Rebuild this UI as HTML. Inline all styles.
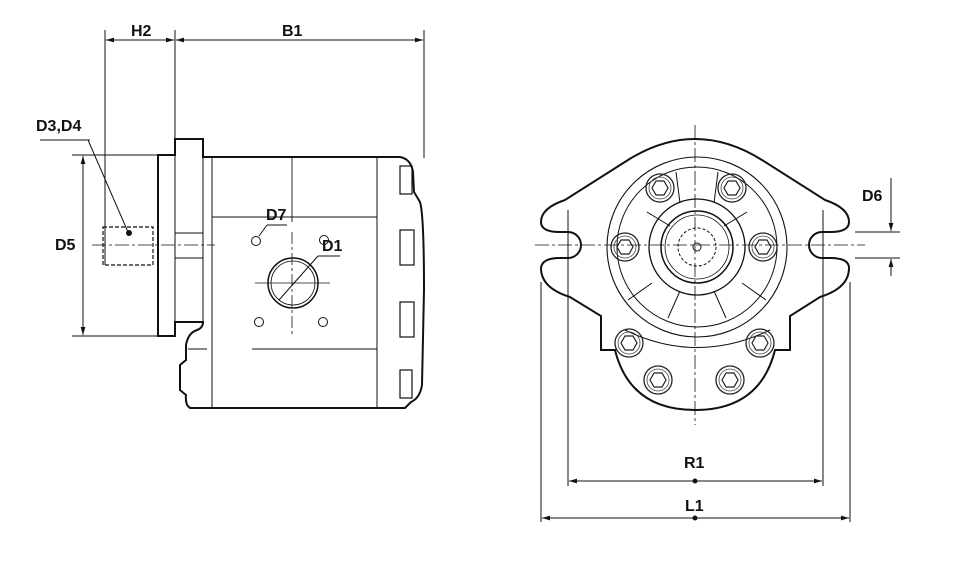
<!DOCTYPE html>
<html><head><meta charset="utf-8"><style>
html,body{margin:0;padding:0;background:#fff;}
svg{display:block;}
text{font-family:"Liberation Sans",sans-serif;font-weight:bold;font-size:16px;fill:#111;}
</style></head><body>
<svg width="978" height="585" viewBox="0 0 978 585" xmlns="http://www.w3.org/2000/svg">
<defs>
<marker id="a" viewBox="0 0 10 10" refX="10" refY="5" markerWidth="12" markerHeight="8" orient="auto-start-reverse" markerUnits="userSpaceOnUse"><path d="M0,2 L10,5 L0,8 z" fill="#111"/></marker>
<g id="bolt"><circle r="14" fill="none" stroke="#222" stroke-width="1.3"/><circle r="11" fill="none" stroke="#444" stroke-width="0.8"/><polygon points="8,0 4,7 -4,7 -8,0 -4,-7 4,-7" fill="none" stroke="#222" stroke-width="1.2"/></g>
</defs>
<g stroke="#111" fill="none">
<line x1="105" y1="30" x2="105" y2="265" stroke-width="1"/>
<line x1="175" y1="30" x2="175" y2="140" stroke-width="1"/>
<line x1="424" y1="30" x2="424" y2="158" stroke-width="1"/>
<line x1="106" y1="40" x2="174" y2="40" stroke-width="1" marker-start="url(#a)" marker-end="url(#a)"/>
<line x1="176" y1="40" x2="423" y2="40" stroke-width="1" marker-start="url(#a)" marker-end="url(#a)"/>
<line x1="72" y1="155" x2="157" y2="155" stroke-width="1"/>
<line x1="72" y1="336" x2="157" y2="336" stroke-width="1"/>
<line x1="83" y1="156" x2="83" y2="335" stroke-width="1" marker-start="url(#a)" marker-end="url(#a)"/>
<line x1="40" y1="140" x2="90" y2="140" stroke-width="1"/>
<line x1="88" y1="140" x2="128" y2="232" stroke-width="1"/>
<circle cx="129" cy="233" r="2.5" fill="#111"/>
<rect x="103" y="227" width="50" height="38" stroke-dasharray="4,2" stroke-width="1.2"/>
<line x1="92" y1="245" x2="215" y2="245" stroke-width="0.8" stroke-dasharray="14,3,3,3"/>
<path d="M158,155 L175,155 L175,139 L203,139 L203,157 L400,157 Q411,159 413,172 L414,192 L420,202 Q424,215 424,290 L422,385 Q420,398 411,402 L405,408 L190,408 Q185,405 186,395 L180,390 L180,365 L186,360 L186,345 Q188,333 197,330 Q203,328 203,322 L175,322 L175,336 L158,336 Z" stroke-width="2"/>
<line x1="175" y1="155" x2="175" y2="336" stroke-width="1"/>
<line x1="203" y1="157" x2="203" y2="322" stroke-width="1"/>
<line x1="175" y1="233" x2="203" y2="233" stroke-width="1"/>
<line x1="175" y1="258" x2="203" y2="258" stroke-width="1"/>
<line x1="212" y1="157" x2="212" y2="408" stroke-width="1"/>
<line x1="377" y1="157" x2="377" y2="408" stroke-width="1"/>
<line x1="212" y1="217" x2="377" y2="217" stroke-width="0.9"/>
<line x1="252" y1="349" x2="377" y2="349" stroke-width="0.9"/>
<line x1="188" y1="349" x2="207" y2="349" stroke-width="0.9"/>
<line x1="292" y1="157" x2="292" y2="222" stroke-width="0.9"/>
<line x1="292" y1="232" x2="292" y2="336" stroke-width="0.8" stroke-dasharray="12,3,3,3"/>
<line x1="255" y1="283" x2="330" y2="283" stroke-width="0.8"/>
<circle cx="293" cy="283" r="25" stroke-width="1.5"/>
<circle cx="293" cy="283" r="22" stroke-width="0.8"/>
<line x1="279" y1="300" x2="318" y2="256" stroke-width="1"/>
<line x1="318" y1="256" x2="340" y2="256" stroke-width="1"/>
<circle cx="256" cy="241" r="4.5" stroke-width="1"/>
<circle cx="324" cy="240" r="4.5" stroke-width="1"/>
<circle cx="259" cy="322" r="4.5" stroke-width="1"/>
<circle cx="323" cy="322" r="4.5" stroke-width="1"/>
<line x1="259" y1="236" x2="267" y2="225" stroke-width="1"/>
<line x1="267" y1="225" x2="287" y2="225" stroke-width="1"/>
<rect x="400" y="230" width="14" height="35" stroke-width="1.2"/>
<rect x="400" y="302" width="14" height="35" stroke-width="1.2"/>
<rect x="400" y="166" width="12" height="28" stroke-width="1.2"/>
<rect x="400" y="370" width="12" height="28" stroke-width="1.2"/>

<path d="M570,297 Q541,288 541,268 Q542,258 560,258 L568,258 A13,13 0 0 0 568,232 L560,232 Q541,232 541,222 Q541,208 565,200 L628,160 Q695,118 762,160 L825,200 Q849,208 849,222 Q849,232 830,232 L822,232 A13,13 0 0 0 822,258 L830,258 Q849,258 849,268 Q849,288 820,297 L790,316 L790,350 L775,350 Q760,410 695,410 Q630,410 615,350 L601,350 L601,316 Z" stroke-width="2"/>
<circle cx="697" cy="247" r="90" stroke-width="1.1"/>
<circle cx="697" cy="247" r="80" stroke-width="1"/>
<circle cx="697" cy="247" r="48" stroke-width="1.3"/>
<circle cx="697" cy="247" r="36" stroke-width="1.5"/>
<circle cx="697" cy="247" r="32" stroke-width="0.8"/>
<circle cx="697" cy="247" r="19" stroke-width="1" stroke-dasharray="3,2"/>
<circle cx="697" cy="247" r="4" stroke-width="1"/>
<path d="M625,330 Q697,365 770,330" stroke-width="1"/>
<g stroke-width="1">
<line x1="647" y1="212" x2="670" y2="226"/><line x1="747" y1="212" x2="724" y2="226"/>
<line x1="652" y1="283" x2="628" y2="300"/><line x1="742" y1="283" x2="766" y2="300"/>
<line x1="680" y1="291" x2="668" y2="318"/><line x1="714" y1="291" x2="726" y2="318"/>
<line x1="680" y1="203" x2="676" y2="172"/><line x1="714" y1="203" x2="718" y2="172"/>
</g>
<use href="#bolt" x="660" y="188"/><use href="#bolt" x="732" y="188"/>
<use href="#bolt" x="625" y="247"/><use href="#bolt" x="763" y="247"/>
<use href="#bolt" x="629" y="343"/><use href="#bolt" x="760" y="343"/>
<use href="#bolt" x="658" y="380"/><use href="#bolt" x="730" y="380"/>
<line x1="535" y1="245" x2="865" y2="245" stroke-width="0.8" stroke-dasharray="14,3,3,3"/>
<line x1="695" y1="125" x2="695" y2="425" stroke-width="0.8" stroke-dasharray="14,3,3,3"/>
<line x1="541" y1="282" x2="541" y2="522" stroke-width="1"/>
<line x1="568" y1="210" x2="568" y2="486" stroke-width="1"/>
<line x1="823" y1="210" x2="823" y2="486" stroke-width="1"/>
<line x1="850" y1="282" x2="850" y2="522" stroke-width="1"/>
<line x1="569" y1="481" x2="822" y2="481" stroke-width="1" marker-start="url(#a)" marker-end="url(#a)"/>
<line x1="542" y1="518" x2="849" y2="518" stroke-width="1" marker-start="url(#a)" marker-end="url(#a)"/>
<circle cx="695" cy="481" r="2" fill="#111"/><circle cx="695" cy="518" r="2" fill="#111"/>
<line x1="855" y1="232" x2="900" y2="232" stroke-width="1"/>
<line x1="855" y1="258" x2="900" y2="258" stroke-width="1"/>
<line x1="891" y1="178" x2="891" y2="231" stroke-width="1" marker-end="url(#a)"/>
<line x1="891" y1="276" x2="891" y2="259" stroke-width="1" marker-end="url(#a)"/>
</g>
<text x="131" y="36">H2</text>
<text x="282" y="36">B1</text>
<text x="36" y="131">D3,D4</text>
<text x="55" y="250">D5</text>
<text x="266" y="220">D7</text>
<text x="322" y="251">D1</text>
<text x="862" y="201">D6</text>
<text x="684" y="468">R1</text>
<text x="685" y="511">L1</text>
</svg>
</body></html>
